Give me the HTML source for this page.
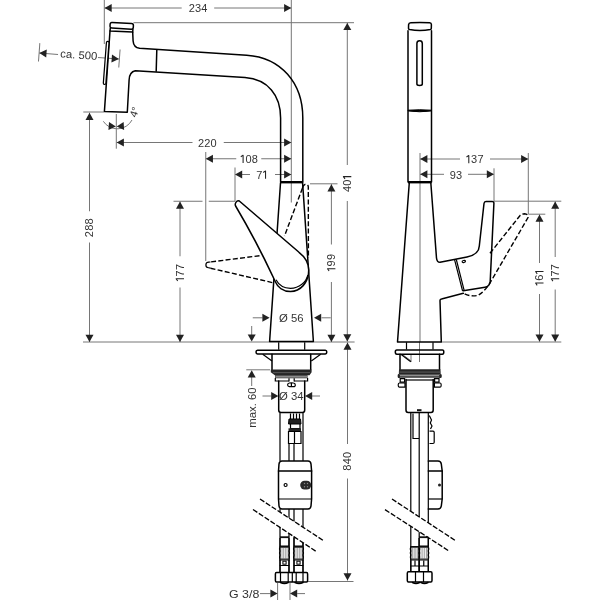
<!DOCTYPE html>
<html><head><meta charset="utf-8"><style>
html,body{margin:0;padding:0;background:#fff;width:600px;height:600px;overflow:hidden}
svg{display:block}
.d{stroke:#767676;stroke-width:1;fill:none}
.o{stroke:#000;stroke-width:1.5;fill:none;stroke-linejoin:round;stroke-linecap:round}
.o1{stroke:#000;stroke-width:1.2;fill:none}
.o2{stroke:#000;stroke-width:1.1;fill:none}
.o3{stroke:#000;stroke-width:2.4;fill:none}
.of{stroke:#000;stroke-width:1.5;fill:#fff;stroke-linejoin:round}
.of4{stroke:#000;stroke-width:1;fill:#222}
.of3{stroke:#000;stroke-width:1;fill:#000}
.dash{stroke:#000;stroke-width:1.4;fill:none;stroke-dasharray:5 2.3}
.dash2{stroke:#000;stroke-width:1.3;fill:none;stroke-dasharray:5.2 1.8}
.a{fill:#222;stroke:none}
.t{fill:#333;font-family:"Liberation Sans",sans-serif}
</style></head><body>
<svg width="600" height="600" viewBox="0 0 600 600">
<rect width="600" height="600" fill="#fff"/>
<g style="will-change:transform"><line x1="104.5" y1="8" x2="181.7" y2="8" class="d"/>
<line x1="214.2" y1="8" x2="291.3" y2="8" class="d"/>
<polygon points="104.50,8.00 111.70,4.00 111.70,12.00" class="a"/>
<polygon points="291.30,8.00 284.10,12.00 284.10,4.00" class="a"/>
<g transform="translate(198 8.3)"><text x="-6.30" y="3.95" font-size="11" text-anchor="middle" class="t">2</text><text x="0.00" y="3.95" font-size="11" text-anchor="middle" class="t">3</text><text x="6.30" y="3.95" font-size="11" text-anchor="middle" class="t">4</text></g>
<line x1="104.3" y1="0" x2="104.3" y2="44" class="d"/>
<line x1="291.3" y1="0" x2="291.3" y2="202.5" class="d"/>
<line x1="133.5" y1="22.7" x2="354" y2="22.7" class="d"/>
<line x1="347.3" y1="22.9" x2="347.3" y2="165" class="d"/>
<line x1="347.3" y1="201" x2="347.3" y2="341.5" class="d"/>
<polygon points="347.30,22.90 351.30,30.10 343.30,30.10" class="a"/>
<polygon points="347.30,341.50 343.30,334.30 351.30,334.30" class="a"/>
<g transform="translate(347.3 183.3) rotate(-90)"><text x="-5.75" y="3.95" font-size="11" text-anchor="middle" class="t">4</text><text x="0.55" y="3.95" font-size="11" text-anchor="middle" class="t">0</text><path d="M6.70,4 L6.70,-3.9 L4.40,-2.3" stroke="#222" stroke-width="1.05" fill="none" stroke-linejoin="round"/></g>
<line x1="83" y1="342" x2="354.6" y2="342" class="d"/>
<g transform="rotate(4.2 79 56)">
<line x1="39" y1="46" x2="39" y2="64.5" class="d"/>
<line x1="39.2" y1="56" x2="58" y2="56" class="d"/>
<line x1="98" y1="56" x2="119" y2="56" class="d"/>
<polygon points="39.20,56.00 46.40,52.00 46.40,60.00" class="a"/>
<polygon points="119.00,56.00 111.80,60.00 111.80,52.00" class="a"/>
<line x1="119.5" y1="46.5" x2="119.5" y2="64.5" class="d"/>
<text x="0" y="3.9" font-size="11" text-anchor="middle" class="t" transform="translate(78.7 54.8) scale(1.03 1)">ca. 500</text>
</g>
<line x1="83.3" y1="112" x2="104" y2="112" class="d"/>
<line x1="89.5" y1="112.7" x2="89.5" y2="211.25" class="d"/>
<line x1="89.5" y1="242.5" x2="89.5" y2="342" class="d"/>
<polygon points="89.50,112.70 93.50,119.90 85.50,119.90" class="a"/>
<polygon points="89.50,342.00 85.50,334.80 93.50,334.80" class="a"/>
<g transform="translate(89.5 227.8) rotate(-90)"><text x="-6.30" y="3.95" font-size="11" text-anchor="middle" class="t">2</text><text x="0.00" y="3.95" font-size="11" text-anchor="middle" class="t">8</text><text x="6.30" y="3.95" font-size="11" text-anchor="middle" class="t">8</text></g>
<line x1="116.3" y1="114" x2="116.3" y2="148.7" class="d"/>
<path d="M103.3,121.3 A16.7,16.7 0 0 0 132,120" class="d"/>
<polygon points="115.90,126.60 108.44,130.09 109.00,122.11" class="a"/>
<polygon points="116.70,126.60 123.60,122.11 124.16,130.09" class="a"/>
<text x="0" y="3.9" font-size="10.5" text-anchor="middle" class="t" transform="translate(134.2 112) rotate(-72) scale(1.03 1)">4°</text>
<line x1="116.7" y1="142.5" x2="192.5" y2="142.5" class="d"/>
<line x1="223.75" y1="142.5" x2="291.3" y2="142.5" class="d"/>
<polygon points="116.70,142.50 123.90,138.50 123.90,146.50" class="a"/>
<polygon points="291.30,142.50 284.10,146.50 284.10,138.50" class="a"/>
<g transform="translate(207.3 142.8)"><text x="-6.30" y="3.95" font-size="11" text-anchor="middle" class="t">2</text><text x="0.00" y="3.95" font-size="11" text-anchor="middle" class="t">2</text><text x="6.30" y="3.95" font-size="11" text-anchor="middle" class="t">0</text></g>
<line x1="205.75" y1="158.75" x2="236.25" y2="158.75" class="d"/>
<line x1="261.25" y1="158.75" x2="291.3" y2="158.75" class="d"/>
<polygon points="205.75,158.75 212.95,154.75 212.95,162.75" class="a"/>
<polygon points="291.30,158.75 284.10,162.75 284.10,154.75" class="a"/>
<g transform="translate(249 159.05)"><path d="M-5.90,4 L-5.90,-3.9 L-8.20,-2.3" stroke="#222" stroke-width="1.05" fill="none" stroke-linejoin="round"/><text x="-0.55" y="3.95" font-size="11" text-anchor="middle" class="t">0</text><text x="5.75" y="3.95" font-size="11" text-anchor="middle" class="t">8</text></g>
<line x1="205.75" y1="152" x2="205.75" y2="261" class="d"/>
<line x1="235" y1="174.5" x2="250" y2="174.5" class="d"/>
<line x1="275" y1="174.5" x2="291.3" y2="174.5" class="d"/>
<polygon points="235.00,174.50 242.20,170.50 242.20,178.50" class="a"/>
<polygon points="291.30,174.50 284.10,178.50 284.10,170.50" class="a"/>
<g transform="translate(262 174.8)"><text x="-2.60" y="3.95" font-size="11" text-anchor="middle" class="t">7</text><path d="M3.55,4 L3.55,-3.9 L1.25,-2.3" stroke="#222" stroke-width="1.05" fill="none" stroke-linejoin="round"/></g>
<line x1="235" y1="167.5" x2="235" y2="201.25" class="d"/>
<line x1="173.5" y1="201.25" x2="202.5" y2="201.25" class="d"/>
<line x1="208.75" y1="201.25" x2="235" y2="201.25" class="d"/>
<line x1="180" y1="201.5" x2="180" y2="256.25" class="d"/>
<line x1="180" y1="287.5" x2="180" y2="342" class="d"/>
<polygon points="180.00,201.50 184.00,208.70 176.00,208.70" class="a"/>
<polygon points="180.00,342.00 176.00,334.80 184.00,334.80" class="a"/>
<g transform="translate(180 272.8) rotate(-90)"><path d="M-5.90,4 L-5.90,-3.9 L-8.20,-2.3" stroke="#222" stroke-width="1.05" fill="none" stroke-linejoin="round"/><text x="-0.55" y="3.95" font-size="11" text-anchor="middle" class="t">7</text><text x="5.75" y="3.95" font-size="11" text-anchor="middle" class="t">7</text></g>
<line x1="310" y1="183.8" x2="337.5" y2="183.8" class="d"/>
<line x1="331.4" y1="184.2" x2="331.4" y2="244.5" class="d"/>
<line x1="331.4" y1="282" x2="331.4" y2="342" class="d"/>
<polygon points="331.40,184.20 335.40,191.40 327.40,191.40" class="a"/>
<polygon points="331.40,342.00 327.40,334.80 335.40,334.80" class="a"/>
<g transform="translate(331.4 262.8) rotate(-90)"><path d="M-5.90,4 L-5.90,-3.9 L-8.20,-2.3" stroke="#222" stroke-width="1.05" fill="none" stroke-linejoin="round"/><text x="-0.55" y="3.95" font-size="11" text-anchor="middle" class="t">9</text><text x="5.75" y="3.95" font-size="11" text-anchor="middle" class="t">9</text></g>
<line x1="252.75" y1="317.8" x2="262.6" y2="317.8" class="d"/>
<polygon points="269.60,317.80 262.40,321.80 262.40,313.80" class="a"/>
<line x1="321.5" y1="317.8" x2="330.75" y2="317.8" class="d"/>
<polygon points="314.00,317.80 321.20,313.80 321.20,321.80" class="a"/>
<text x="0" y="3.9" font-size="11" text-anchor="middle" class="t" transform="translate(291.2 318) scale(1.03 1)">Ø 56</text>
<line x1="251.7" y1="326" x2="251.7" y2="335" class="d"/>
<polygon points="251.70,341.60 247.70,334.40 255.70,334.40" class="a"/>
<line x1="246.25" y1="369.8" x2="270" y2="369.8" class="d"/>
<line x1="251.7" y1="377" x2="251.7" y2="386" class="d"/>
<polygon points="251.70,370.30 255.70,377.50 247.70,377.50" class="a"/>
<text x="0" y="3.9" font-size="11" text-anchor="middle" class="t" transform="translate(252.5 407.5) rotate(-90) scale(1.03 1)">max. 60</text>
<line x1="262.5" y1="396" x2="271.3" y2="396" class="d"/>
<polygon points="278.40,396.00 271.20,400.00 271.20,392.00" class="a"/>
<line x1="312" y1="396" x2="320" y2="396" class="d"/>
<polygon points="305.00,396.00 312.20,392.00 312.20,400.00" class="a"/>
<text x="0" y="3.9" font-size="11" text-anchor="middle" class="t" transform="translate(291.2 396) scale(1.03 1)">Ø 34</text>
<line x1="277.6" y1="583" x2="277.6" y2="600" class="d"/>
<line x1="290" y1="583" x2="290" y2="600" class="d"/>
<line x1="260" y1="593.6" x2="270.4" y2="593.6" class="d"/>
<polygon points="277.60,593.60 270.40,597.60 270.40,589.60" class="a"/>
<line x1="297.2" y1="593.6" x2="305" y2="593.6" class="d"/>
<polygon points="290.00,593.60 297.20,589.60 297.20,597.60" class="a"/>
<text x="0" y="3.9" font-size="11" text-anchor="middle" class="t" transform="translate(244.1 593.6) scale(1.13 1)">G 3/8</text>
<line x1="308" y1="581.5" x2="353.5" y2="581.5" class="d"/>
<line x1="347.5" y1="342.5" x2="347.5" y2="444" class="d"/>
<line x1="347.5" y1="478.5" x2="347.5" y2="580.5" class="d"/>
<polygon points="347.50,342.50 351.50,349.70 343.50,349.70" class="a"/>
<polygon points="347.50,580.50 343.50,573.30 351.50,573.30" class="a"/>
<g transform="translate(347.5 461.3) rotate(-90)"><text x="-6.30" y="3.95" font-size="11" text-anchor="middle" class="t">8</text><text x="0.00" y="3.95" font-size="11" text-anchor="middle" class="t">4</text><text x="6.30" y="3.95" font-size="11" text-anchor="middle" class="t">0</text></g>
<line x1="420" y1="153" x2="420" y2="342" class="d"/>
<line x1="420" y1="159" x2="460" y2="159" class="d"/>
<line x1="490" y1="159" x2="528.3" y2="159" class="d"/>
<polygon points="420.20,159.00 427.40,155.00 427.40,163.00" class="a"/>
<polygon points="528.30,159.00 521.10,163.00 521.10,155.00" class="a"/>
<g transform="translate(474.7 159.3)"><path d="M-5.90,4 L-5.90,-3.9 L-8.20,-2.3" stroke="#222" stroke-width="1.05" fill="none" stroke-linejoin="round"/><text x="-0.55" y="3.95" font-size="11" text-anchor="middle" class="t">3</text><text x="5.75" y="3.95" font-size="11" text-anchor="middle" class="t">7</text></g>
<line x1="528.3" y1="153" x2="528.3" y2="214" class="d"/>
<line x1="420" y1="174.3" x2="444" y2="174.3" class="d"/>
<line x1="468" y1="174.3" x2="494" y2="174.3" class="d"/>
<polygon points="420.20,174.30 427.40,170.30 427.40,178.30" class="a"/>
<polygon points="494.00,174.30 486.80,178.30 486.80,170.30" class="a"/>
<g transform="translate(456 174.60000000000002)"><text x="-3.15" y="3.95" font-size="11" text-anchor="middle" class="t">9</text><text x="3.15" y="3.95" font-size="11" text-anchor="middle" class="t">3</text></g>
<line x1="494" y1="168.3" x2="494" y2="201" class="d"/>
<line x1="494" y1="201.2" x2="561.3" y2="201.2" class="d"/>
<line x1="528.3" y1="214.2" x2="545.3" y2="214.2" class="d"/>
<line x1="555.2" y1="201.5" x2="555.2" y2="257" class="d"/>
<line x1="555.2" y1="289.5" x2="555.2" y2="341.7" class="d"/>
<polygon points="555.20,201.50 559.20,208.70 551.20,208.70" class="a"/>
<polygon points="555.20,341.70 551.20,334.50 559.20,334.50" class="a"/>
<g transform="translate(555.2 272.90000000000003) rotate(-90)"><path d="M-5.90,4 L-5.90,-3.9 L-8.20,-2.3" stroke="#222" stroke-width="1.05" fill="none" stroke-linejoin="round"/><text x="-0.55" y="3.95" font-size="11" text-anchor="middle" class="t">7</text><text x="5.75" y="3.95" font-size="11" text-anchor="middle" class="t">7</text></g>
<line x1="539.5" y1="214.5" x2="539.5" y2="263" class="d"/>
<line x1="539.5" y1="294" x2="539.5" y2="341.7" class="d"/>
<polygon points="539.50,214.50 543.50,221.70 535.50,221.70" class="a"/>
<polygon points="539.50,341.70 535.50,334.50 543.50,334.50" class="a"/>
<g transform="translate(539.5 277.7) rotate(-90)"><path d="M-5.35,4 L-5.35,-3.9 L-7.65,-2.3" stroke="#222" stroke-width="1.05" fill="none" stroke-linejoin="round"/><text x="0.00" y="3.95" font-size="11" text-anchor="middle" class="t">6</text><path d="M6.15,4 L6.15,-3.9 L3.85,-2.3" stroke="#222" stroke-width="1.05" fill="none" stroke-linejoin="round"/></g>
<line x1="441.3" y1="342" x2="561.3" y2="342" class="d"/>
<path d="M402.3,354.4 L411.2,361" class="d"/>
<line x1="411" y1="355" x2="411" y2="362" class="d"/>
<line x1="419.5" y1="342" x2="419.5" y2="362" class="d"/></g>
<path d="M112,22.5 L131.5,23.6 Q133.4,23.7 133.4,25.6 L133.3,27.3 Q133.2,29.3 131.2,29.2 L111.8,28.1 Q110,28 110,26.2 L110.1,24.5 Q110.2,22.4 112,22.5 Z" class="o"/>
<path d="M110.3,28.3 L110.0,30.9 L132.7,32.1 L132.9,29.4" class="o"/>
<path d="M110.0,30.9 L104.4,111.6 L127.3,112.3 L129.1,80 Q129.4,72 135.3,70.8 L245,77.6 C268,79.5 280.6,95 280.6,118 L280.6,182.3" class="o"/>
<path d="M132.7,32.2 L133.1,41 Q133.6,47.6 139.6,48.2 L246.7,55.2 C281,57.5 302.8,83 302.8,118 L302.8,182.3" class="o"/>
<line x1="156.8" y1="50.0" x2="156.2" y2="71.3" class="o"/>
<path d="M107.7,42.6 L104.6,83.2" stroke="#000" stroke-width="3.8" stroke-linecap="round" fill="none"/>
<path d="M107.7,42.6 L104.6,83.2" stroke="#fff" stroke-width="1.3" stroke-linecap="round" fill="none"/>
<line x1="280.5" y1="182.2" x2="303" y2="182.2" class="o3"/>
<path d="M280.5,183 L269.6,341.5 L313.4,341.5 L302.6,183" class="o"/>
<path d="M302.5,188 L303.2,186 Q304.5,184 306,184.2 Q308.3,184.6 308.3,187 L308.4,258" class="dash"/>
<path d="M302.5,188 L284.5,236" class="dash"/>
<path d="M259.5,255.75 L208.5,262.2" class="dash"/>
<path d="M210.5,262 L208.5,262.2 A2.78,2.78 0 0 0 208.5,267.75 L210.5,268.2" class="o1"/>
<path d="M210.5,268.2 L273,282.75" class="dash"/>
<path d="M239.3,201 L299,252.3 C304.5,256.5 308.7,262 308.7,270 C308.7,283 300,291.5 290.5,291.5 C283,291.5 277.5,287 275.2,281.5 Q257.75,243.5 235.6,206 C234.4,203.6 236.8,199.6 239.3,201 Z" class="of"/>
<path d="M276,279.8 C279,285.5 284,288.3 290.5,288.3 C299,288.3 306.5,282 307.8,275" class="o1"/>
<path d="M278.7,342.3 L278.7,349.8 M304.7,342.3 L304.7,349.8" class="o1"/>
<path d="M257.5,350.3 L325.3,350.3 Q326.8,350.3 326.8,352.1 Q326.8,353.9 325.3,353.9 L257.5,353.9 Q256,353.9 256,352.1 Q256,350.3 257.5,350.3 Z" class="o"/>
<path d="M262.7,354.2 L272,361 M320.7,354.2 L311.3,361" class="o1"/>
<path d="M272,354.2 L272,369.8 M310.7,354.2 L310.7,369.8" class="o"/>
<polygon points="270.8,369.4 311.6,369.4 311.6,372.3 309.5,375.2 274.8,375.2 270.8,372.3" fill="#262626"/>
<rect x="273" y="372.3" width="37" height="0.8" fill="#666"/>
<rect x="275" y="375.1" width="32.6" height="3.2" fill="#444"/>
<rect x="275.5" y="376.2" width="31.6" height="0.6" fill="#bbb"/>
<rect x="275.5" y="377.2" width="31.6" height="0.5" fill="#999"/>
<path d="M275.3,378 L275.3,381 L289,381 M294.2,381 L307.6,381 L307.6,378" class="o1"/>
<path d="M289,378.3 L289,381.5 M294.2,378.3 L294.2,381.5" class="o1"/>
<path d="M278.7,381 L278.7,410 Q278.7,412.5 281,412.5 L302.5,412.5 Q304.7,412.5 304.7,410 L304.7,381" class="o"/>
<path d="M289.3,383 Q287.4,383.4 287.6,385 Q287.8,386.7 289.5,386.6 L293.5,386.6 Q295.3,386.7 295.3,385 Q295.3,383.3 293.5,383 Q291.4,382.6 289.3,383 Z M291.4,383 L291.4,386.6" class="o1"/>
<path d="M280,413 L280,461 M303,413 L303,461" class="o1"/>
<path d="M290.5,413.5 L290.5,419 M293.5,413.5 L293.5,419 M296.5,413.5 L296.5,419 M299.5,413.5 L299.5,419" class="o1"/>
<path d="M289,419 L300.5,419 L301,424 L288.5,424 Z" class="of4"/>
<path d="M290.5,424 L290.5,428.5 L300,428.5 L300,424" class="o1"/>
<rect x="288.5" y="428.3" width="12.5" height="2.8" fill="#222"/>
<path d="M288.5,431.5 L288.5,443.5 L301,443.5 L301,431.5 Z M294.5,431.5 L294.5,443.5" class="o1"/>
<path d="M289,443.5 L289,461 M294,443.5 L294,461" class="o1"/>
<path d="M282,461 L308,461 Q310.6,461 311,464 L311.6,471 L311.6,499 L311,506 Q310.6,509 308,509 L282,509 Q279.4,509 279,506 L278.5,499 L278.5,471 L279,464 Q279.4,461 282,461 Z" class="o"/>
<line x1="278.5" y1="471" x2="311.6" y2="471" class="o"/>
<line x1="278.5" y1="499" x2="311.6" y2="499" class="o1"/>
<circle cx="285.6" cy="485" r="1.5" class="o1"/>
<rect x="300.2" y="480.8" width="11" height="8.6" rx="4.3" fill="#2a2a2a"/>
<circle cx="304.5" cy="483.5" r="0.7" fill="#888"/><circle cx="307.5" cy="483.5" r="0.7" fill="#888"/><circle cx="304.5" cy="486.8" r="0.7" fill="#888"/><circle cx="307.5" cy="486.8" r="0.7" fill="#888"/>
<path d="M280,509 L280,572 M289,509 L289,572 M294,509 L294,572 M303,509 L303,572" class="o1"/>
<rect x="280" y="536.3" width="9" height="1.8" fill="#111"/>
<path d="M280,538 L280,546 L289,546 L289,538" class="o1"/>
<path d="M280,546.5 Q279,549 280,551 Q279,553 280,555 Q279,557.5 280,560 L289,560 Q290,557.5 289,555 Q290,553 289,551 Q290,549 289,546.5 Z" class="o1"/>
<line x1="282.00" y1="548" x2="282.00" y2="558.5" stroke="#666" stroke-width="0.6"/>
<line x1="283.67" y1="548" x2="283.67" y2="558.5" stroke="#666" stroke-width="0.6"/>
<line x1="285.33" y1="548" x2="285.33" y2="558.5" stroke="#666" stroke-width="0.6"/>
<line x1="287.00" y1="548" x2="287.00" y2="558.5" stroke="#666" stroke-width="0.6"/>
<rect x="280" y="546.6" width="9" height="1.2" fill="#222"/>
<rect x="280" y="558.5" width="9" height="1.2" fill="#222"/>
<path d="M280,560 L280,565.5 L289,565.5 L289,560" class="o1"/>
<rect x="282.9" y="561.2" width="3.2" height="3" fill="none" stroke="#000" stroke-width="1"/>
<path d="M280,565.5 L280,572 M289,565.5 L289,572" class="o1"/>
<rect x="294" y="536.3" width="9" height="1.8" fill="#111"/>
<path d="M294,538 L294,546 L303,546 L303,538" class="o1"/>
<path d="M294,546.5 Q293,549 294,551 Q293,553 294,555 Q293,557.5 294,560 L303,560 Q304,557.5 303,555 Q304,553 303,551 Q304,549 303,546.5 Z" class="o1"/>
<line x1="296.00" y1="548" x2="296.00" y2="558.5" stroke="#666" stroke-width="0.6"/>
<line x1="297.67" y1="548" x2="297.67" y2="558.5" stroke="#666" stroke-width="0.6"/>
<line x1="299.33" y1="548" x2="299.33" y2="558.5" stroke="#666" stroke-width="0.6"/>
<line x1="301.00" y1="548" x2="301.00" y2="558.5" stroke="#666" stroke-width="0.6"/>
<rect x="294" y="546.6" width="9" height="1.2" fill="#222"/>
<rect x="294" y="558.5" width="9" height="1.2" fill="#222"/>
<path d="M294,560 L294,565.5 L303,565.5 L303,560" class="o1"/>
<rect x="296.9" y="561.2" width="3.2" height="3" fill="none" stroke="#000" stroke-width="1"/>
<path d="M294,565.5 L294,572 M303,565.5 L303,572" class="o1"/>
<path d="M276.5,572.5 L306.5,572.5 Q307.6,572.5 307.6,574 L307.6,580.5 Q307.6,582 306.5,582 L276.5,582 Q275.4,582 275.4,580.5 L275.4,574 Q275.4,572.5 276.5,572.5 Z" class="o"/>
<path d="M280.5,572.5 L280.5,582 M288.2,572.5 L288.2,582 M292.3,572.5 L292.3,582 M296.2,572.5 L296.2,582 M303,572.5 L303,582" class="o1"/>
<path d="M280.5,582.5 Q284.5,584.5 288.2,582.5 M295,582.5 Q299,584.5 303,582.5" class="o"/>
<polygon points="260,499 324,541 317,552 253,509.5" fill="#fff"/>
<path d="M260,499 L324,541" class="dash2"/>
<path d="M253,509.5 L317,552" class="dash2"/>
<path d="M408.6,24.6 Q408.8,22.9 410.8,22.8 Q419.8,22.4 429.6,22.8 Q431.4,22.9 431.4,24.6 L431.3,28.4 Q431.2,29.3 430.3,29.5 Q419.8,31.3 409.6,29.5 Q408.6,29.3 408.5,28.4 Z" class="o"/>
<path d="M408,30.8 L408,182 M431.5,30.8 L431.5,182" class="o"/>
<path d="M416.9,84 L416.9,43.5 Q416.9,40.8 419.6,40.8 Q422.3,40.8 422.3,43.5 L422.3,84 Q422.3,85.5 419.6,85.5 Q416.9,85.5 416.9,84 Z" class="o"/>
<path d="M408,110.2 Q419.7,109.3 431.5,110.2 L431.5,110.9 Q419.7,112.6 408,110.9 Z" class="of3"/>
<line x1="408" y1="182.2" x2="431.5" y2="182.2" class="o3"/>
<path d="M409.3,182.5 L397.5,342 L441.3,342 L440,300.5 Q440,299.3 441.5,299 L463.3,293.3" class="o"/>
<path d="M430.8,182.5 L436.5,258 Q436.9,262.3 440,262.3 L467,257 Q479,254.5 479.3,246 L484,203.5 Q484.2,201.6 486,201.6 L492.2,201.6 Q494,201.6 493.9,203.5 L490.2,281.5 Q489.5,286.6 485,287.3 L463.3,290.8" class="o"/>
<path d="M454.6,259.8 L462.6,291 M456.3,259.5 L464.2,290.6" class="o1"/>
<ellipse cx="463.8" cy="261.5" rx="1.7" ry="1" class="o1" transform="rotate(-15 463.8 261.5)"/>
<path d="M490,253.3 L520.3,215.2 Q522,213.8 524.5,213.8 Q528.6,214.2 528,217.6 L490,283 Q484,292 478,295.4 Q470,297 463.3,293.3" class="dash"/>
<path d="M406.5,342.3 L406.5,349.5 M433,342.3 L433,349.5" class="o1"/>
<path d="M396.8,350 L442.4,350 Q443.8,350 443.8,352.1 Q443.8,354.2 442.4,354.2 L396.8,354.2 Q395.3,354.2 395.3,352.1 Q395.3,350 396.8,350 Z" class="o"/>
<path d="M400,354.2 L400,369.5 M439.5,354.2 L439.5,369.5" class="o"/>
<path d="M401.2,354.6 L410.8,361.8" class="o1"/>
<polygon points="399,369.3 440.5,369.3 440.7,374.2 398.8,374.2" fill="#262626"/>
<rect x="399.5" y="371.7" width="40.5" height="0.7" fill="#777"/>
<rect x="398.3" y="374.2" width="42.6" height="3.8" fill="#3a3a3a"/>
<ellipse cx="398.6" cy="376" rx="1" ry="2" fill="#222"/><ellipse cx="440.8" cy="376" rx="1" ry="2" fill="#222"/>
<rect x="400" y="375.3" width="39" height="0.6" fill="#ccc"/>
<rect x="400" y="376.8" width="39" height="0.6" fill="#aaa"/>
<path d="M400.2,378.6 L404.6,378.6 L404.6,382.2 L400.2,382.2 Z M434.6,378.6 L439,378.6 L439,382.2 L434.6,382.2 Z" class="o1"/>
<path d="M399.2,383 L405,383 L405,387.2 L399.2,387.2 Q398.2,387.2 398.2,385.1 Q398.2,383 399.2,383 Z M434.4,383 L440.2,383 Q441.2,383 441.2,385.1 Q441.2,387.2 440.2,387.2 L434.4,387.2 Z" class="o1"/>
<path d="M406,379.5 L406,410 Q406,412.5 408.2,412.5 L431,412.5 Q433.2,412.5 433.2,410 L433.2,379.5" class="o"/>
<line x1="406" y1="380" x2="433.2" y2="380" class="o1"/>
<path d="M410.8,413 L410.8,572 M419.2,413 L419.2,572 M428.3,413 L428.3,460.8" class="o1"/>
<path d="M413,413.5 L413,438.5 L419,438.5" class="o1"/>
<rect x="417" y="409.2" width="4.5" height="2" fill="#111"/>
<path d="M429.3,415.5 L431.5,420 L430.3,423 L432,426 L430.5,429 M429.5,431.2 L433,431.2 Q434.2,431.2 434.2,432.5 L434.2,442.3 Q434.2,443.5 433,443.5 L429.5,443.5" class="o1"/>
<path d="M428.3,461 L438,461 Q440.8,461 441.3,464 L442.2,471 L442.2,499 L441.3,506 Q440.8,509 438,509 L428.3,509" class="o"/>
<line x1="428.3" y1="471" x2="442.2" y2="471" class="o"/>
<line x1="428.3" y1="499" x2="442.2" y2="499" class="o1"/>
<circle cx="439.5" cy="485" r="1.5" fill="#222"/>
<path d="M428.3,460.8 L428.3,572" class="o1"/>
<polygon points="392,499 456,541 449,551 385,509.6" fill="#fff"/>
<path d="M392,499 L456,541" class="dash2"/>
<path d="M385,509.6 L449,551" class="dash2"/>
<rect x="419" y="536.3" width="9.3" height="1.8" fill="#111"/>
<path d="M419,538 L419,546 L428.3,546 L428.3,538" class="o1"/>
<path d="M410.8,546.5 Q409.8,549 410.8,551 Q409.8,553 410.8,555 Q409.8,557.5 410.8,560 L419.2,560 Q420.2,557.5 419.2,555 Q420.2,553 419.2,551 Q420.2,549 419.2,546.5 Z" class="o1"/>
<line x1="412.60" y1="548" x2="412.60" y2="558.5" stroke="#666" stroke-width="0.6"/>
<line x1="414.20" y1="548" x2="414.20" y2="558.5" stroke="#666" stroke-width="0.6"/>
<line x1="415.80" y1="548" x2="415.80" y2="558.5" stroke="#666" stroke-width="0.6"/>
<line x1="417.40" y1="548" x2="417.40" y2="558.5" stroke="#666" stroke-width="0.6"/>
<rect x="410.8" y="546.6" width="8.399999999999977" height="1.2" fill="#222"/>
<rect x="410.8" y="558.5" width="8.399999999999977" height="1.2" fill="#222"/>
<path d="M410.8,560.5 L410.8,566 L419.2,566 L419.2,560.5 M415.0,560.5 L415.0,566" class="o1"/>
<path d="M410.8,566 L410.8,571.5 M419.2,566 L419.2,571.5" class="o1"/>
<path d="M419.2,546.5 Q418.2,549 419.2,551 Q418.2,553 419.2,555 Q418.2,557.5 419.2,560 L428.3,560 Q429.3,557.5 428.3,555 Q429.3,553 428.3,551 Q429.3,549 428.3,546.5 Z" class="o1"/>
<line x1="421.00" y1="548" x2="421.00" y2="558.5" stroke="#666" stroke-width="0.6"/>
<line x1="422.83" y1="548" x2="422.83" y2="558.5" stroke="#666" stroke-width="0.6"/>
<line x1="424.67" y1="548" x2="424.67" y2="558.5" stroke="#666" stroke-width="0.6"/>
<line x1="426.50" y1="548" x2="426.50" y2="558.5" stroke="#666" stroke-width="0.6"/>
<rect x="419.2" y="546.6" width="9.100000000000023" height="1.2" fill="#222"/>
<rect x="419.2" y="558.5" width="9.100000000000023" height="1.2" fill="#222"/>
<path d="M419.2,560.5 L419.2,566 L428.3,566 L428.3,560.5 M423.75,560.5 L423.75,566" class="o1"/>
<path d="M419.2,566 L419.2,571.5 M428.3,566 L428.3,571.5" class="o1"/>
<path d="M408.5,571.8 L430.8,571.8 Q432,571.8 432,573.3 L432,580.5 Q432,582 430.8,582 L408.5,582 Q407.3,582 407.3,580.5 L407.3,573.3 Q407.3,571.8 408.5,571.8 Z" class="o"/>
<path d="M415.5,571.8 L415.5,582 M423.5,571.8 L423.5,582" class="o1"/>
<path d="M412.5,582.5 Q416,584.5 419.5,582.5 M421,582.5 Q424.5,584.5 428,582.5" class="o"/>
</svg></body></html>
